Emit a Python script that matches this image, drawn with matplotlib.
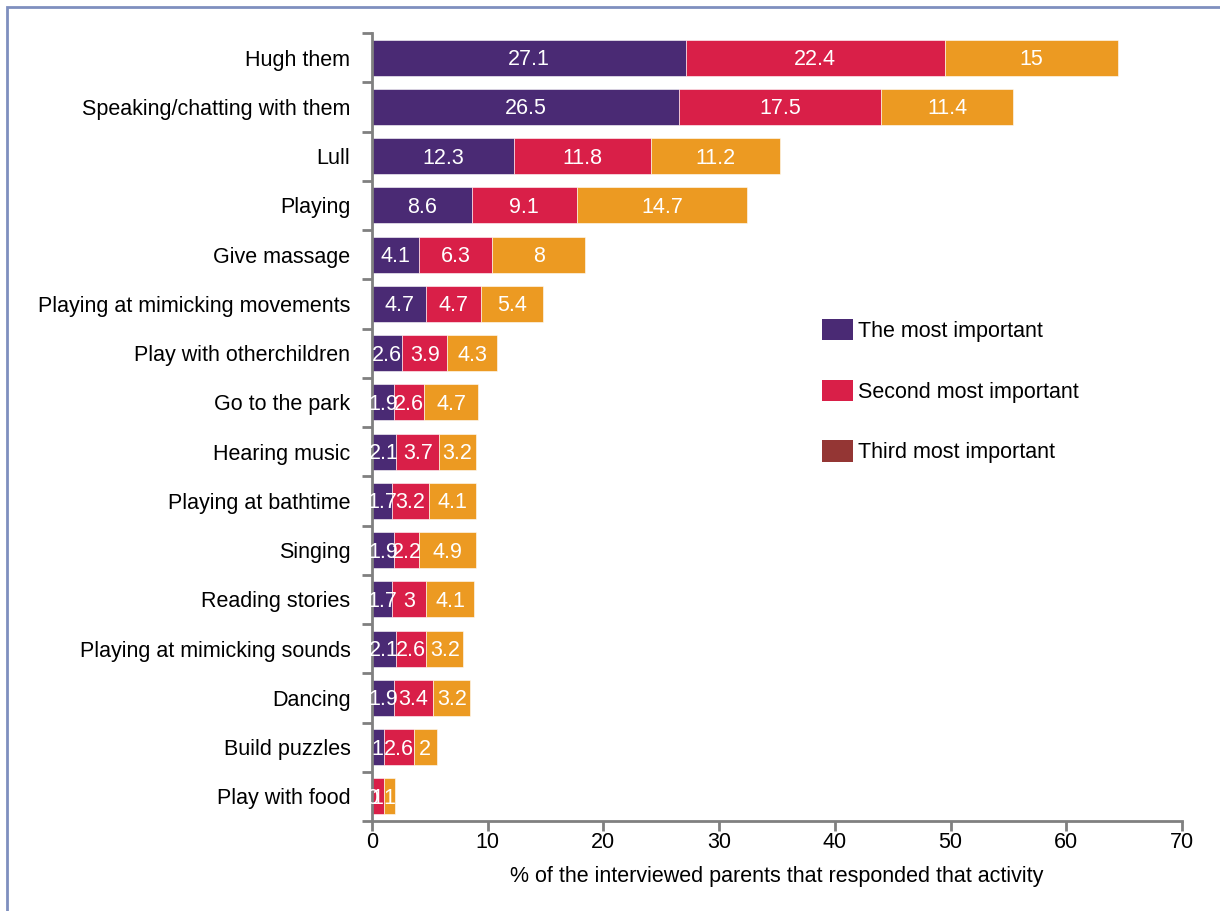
import numpy as np
import matplotlib.pyplot as plt
from matplotlib.patches import Rectangle, Patch

plt.rcParams['font.family'] = ['Liberation Sans', 'DejaVu Sans']

# ---- Data ----
activities = [
    "Hugh them", "Speaking/chatting with them", "Lull", "Playing",
    "Give massage", "Playing at mimicking movements", "Play with otherchildren",
    "Go to the park", "Hearing music", "Playing at bathtime", "Singing",
    "Reading stories", "Playing at mimicking sounds", "Dancing",
    "Build puzzles", "Play with food",
]
most_important = [27.1, 26.5, 12.3, 8.6, 4.1, 4.7, 2.6, 1.9, 2.1, 1.7, 1.9, 1.7, 2.1, 1.9, 1, 0]
second_important = [22.4, 17.5, 11.8, 9.1, 6.3, 4.7, 3.9, 2.6, 3.7, 3.2, 2.2, 3, 2.6, 3.4, 2.6, 1]
third_important = [15, 11.4, 11.2, 14.7, 8, 5.4, 4.3, 4.7, 3.2, 4.1, 4.9, 4.1, 3.2, 3.2, 2, 1]

series_names = ["The most important", "Second most important", "Third most important"]
bar_colors = ["#4A2A74", "#D91F48", "#EC9A22"]
legend_colors = ["#4A2A74", "#D91F48", "#943634"]

FS = 15.5
W, H = 1220, 911
fig = plt.figure(figsize=(W / 100, H / 100), dpi=100)

# outer frame (runs off the right and bottom edges)
fig.patches.append(Rectangle((7 / W, -0.1), 1.2, 1 - 7 / H + 0.1,
                             transform=fig.transFigure, fill=False,
                             edgecolor="#7F8FBF", linewidth=2))

ax = fig.add_axes([372 / W, 1 - 821 / H, 810 / W, (821 - 33) / H])

y = np.arange(len(activities))
left = np.zeros(len(activities))
for vals, col in zip([most_important, second_important, third_important], bar_colors):
    vals = np.array(vals, dtype=float)
    ax.barh(y, vals, left=left, height=0.73, color=col,
            edgecolor="white", linewidth=0.4)
    for yi, l, v in zip(y, left, vals):
        ax.text(l + v / 2, yi + 0.04, f"{v:g}", ha="center", va="center",
                color="white", fontsize=FS)
    left += vals

ax.set_ylim(len(activities) - 0.5, -0.5)
ax.set_xlim(0, 70)
ax.set_xticks(np.arange(0, 71, 10))
ax.set_yticks(y)
ax.set_yticklabels(activities, fontsize=FS)
ax.set_yticks(np.arange(-0.5, len(activities), 1), minor=True)
ax.tick_params(axis="y", which="major", length=0, pad=15.5)
ax.tick_params(axis="y", which="minor", length=7, color="#808080", width=2)
ax.tick_params(axis="x", length=7, color="#808080", width=2, labelsize=FS, pad=1)
for s in ["top", "right"]:
    ax.spines[s].set_visible(False)
for s in ["left", "bottom"]:
    ax.spines[s].set_color("#808080")
    ax.spines[s].set_linewidth(2)
ax.set_xlabel("% of the interviewed parents that responded that activity",
              fontsize=FS, labelpad=9)

handles = [Patch(facecolor=c) for c in legend_colors]
fig.legend(handles, series_names, loc="upper left",
           bbox_to_anchor=(822 / W, 1 - 319 / H), frameon=False,
           fontsize=FS, handlelength=1.44, handleheight=1.15,
           labelspacing=1.75, handletextpad=0.25,
           borderpad=0, borderaxespad=0)

fig.savefig("out.png", dpi=100)
